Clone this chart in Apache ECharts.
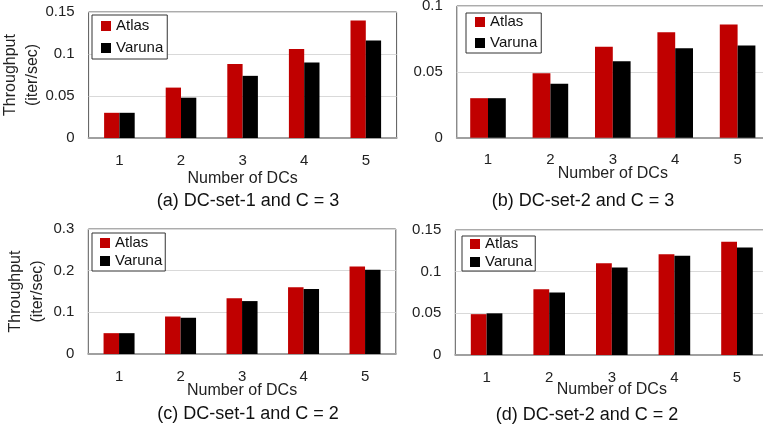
<!DOCTYPE html>
<html>
<head>
<meta charset="utf-8">
<script src="https://cdn.jsdelivr.net/npm/echarts@6/dist/echarts.min.js"></script>
<style>
html,body{margin:0;padding:0;background:#fff;}
#chart{width:763px;height:429px;}
</style>
</head>
<body>
<div id="chart"></div>
<script>
// ---- data ----
const categories = ['1', '2', '3', '4', '5'];
const seriesNames = ['Atlas', 'Varuna'];
const atlasA  = [0.030, 0.060, 0.088, 0.106, 0.140];
const varunaA = [0.030, 0.048, 0.074, 0.090, 0.116];
const atlasB  = [0.030, 0.049, 0.069, 0.080, 0.086];
const varunaB = [0.030, 0.041, 0.058, 0.068, 0.070];
const atlasC  = [0.050, 0.090, 0.134, 0.160, 0.210];
const varunaC = [0.050, 0.087, 0.127, 0.156, 0.202];
const atlasD  = [0.049, 0.079, 0.110, 0.121, 0.136];
const varunaD = [0.050, 0.075, 0.105, 0.119, 0.129];
const captions = ['(a) DC-set-1 and C = 3', '(b) DC-set-2 and C = 3', '(c) DC-set-1 and C = 2', '(d) DC-set-2 and C = 2'];
const xAxisName = 'Number of DCs';
const yAxisName = 'Throughput\n(iter/sec)';
const yMax = [0.15, 0.1, 0.3, 0.15];
const yInterval = [0.05, 0.05, 0.1, 0.05];

// ---- layout ----
const FONT = '"Liberation Sans", Arial, sans-serif';
const grids = [
  {left: 88.6, top: 12, width: 308, height: 126},
  {left: 456.8, top: 6, width: 312, height: 131.7},
  {left: 88.3, top: 229, width: 307.5, height: 125},
  {left: 455.3, top: 230, width: 313, height: 125}
];
const barWidths = [15.3, 17.8, 15.5, 15.8];
const nameGaps = [33, 28, 29, 27];
const yNameGaps = [45, 0, 40, 0];
const legendPos = [
  {left: 92, top: 15, padding: [3, 4, 3, 9], itemGap: 6},
  {left: 466, top: 13, padding: [1, 4, 2, 9], itemGap: 5},
  {left: 92, top: 233, padding: [2, 3, 2, 8], itemGap: 2},
  {left: 462, top: 236, padding: [0, 3, 1, 8], itemGap: 2}
];
const captionPos = [[248, 201], [583, 201], [248, 414], [587, 415]];
const atlasData = [atlasA, atlasB, atlasC, atlasD];
const varunaData = [varunaA, varunaB, varunaC, varunaD];

const option = {
  animation: false,
  backgroundColor: '#fff',
  textStyle: {fontFamily: FONT},
  grid: grids.map(g => Object.assign({show: true, borderColor: '#595959', borderWidth: 1,
    backgroundColor: 'transparent', containLabel: false, outerBoundsMode: 'none'}, g)),
  legend: legendPos.map(l => ({
    data: seriesNames,
    orient: 'vertical',
    left: l.left, top: l.top,
    padding: l.padding,
    itemGap: l.itemGap,
    itemWidth: 10, itemHeight: 10,
    itemTextGap: 4,
    icon: 'rect',
    borderColor: '#333',
    borderWidth: 1,
    backgroundColor: '#fff',
    textStyle: {fontSize: 15, color: '#111', fontFamily: FONT, lineHeight: 16}
  })),
  xAxis: grids.map((g, i) => ({
    type: 'category',
    gridIndex: i,
    data: categories,
    name: xAxisName,
    nameLocation: 'middle',
    nameGap: nameGaps[i],
    nameMoveOverlap: false,
    nameTextStyle: {fontSize: 16, color: '#222', fontFamily: FONT},
    axisLine: {lineStyle: {color: '#a0a0a0', width: 2}},
    axisTick: {show: false},
    axisLabel: {fontSize: 15, color: '#222', margin: 15, fontFamily: FONT}
  })),
  yAxis: grids.map((g, i) => ({
    type: 'value',
    gridIndex: i,
    min: 0,
    max: yMax[i],
    interval: yInterval[i],
    name: yNameGaps[i] ? yAxisName : '',
    nameLocation: 'middle',
    nameRotate: 90,
    nameGap: yNameGaps[i],
    nameMoveOverlap: false,
    nameTextStyle: {fontSize: 16, color: '#222', lineHeight: 22, fontFamily: FONT},
    axisLine: {show: false},
    axisTick: {show: false},
    splitLine: {lineStyle: {color: '#d9d9d9', width: 1}},
    axisLabel: {fontSize: 15, color: '#222', margin: 14, fontFamily: FONT,
      formatter: v => String(+v.toFixed(2))}
  })),
  series: [],
  graphic: captions.map((c, i) => ({
    type: 'text',
    x: captionPos[i][0],
    y: captionPos[i][1],
    style: {text: c, fontSize: 18, fill: '#111', fontFamily: FONT, textAlign: 'center', textVerticalAlign: 'middle'}
  }))
};

for (let i = 0; i < 4; i++) {
  option.series.push({
    name: 'Atlas', type: 'bar', xAxisIndex: i, yAxisIndex: i,
    data: atlasData[i], barWidth: barWidths[i], barGap: '0%',
    itemStyle: {color: '#C00000'}
  });
  option.series.push({
    name: 'Varuna', type: 'bar', xAxisIndex: i, yAxisIndex: i,
    data: varunaData[i], barWidth: barWidths[i], barGap: '0%',
    itemStyle: {color: '#000000'}
  });
}

const chart = echarts.init(document.getElementById('chart'), null, {renderer: 'canvas'});
chart.setOption(option);
</script>
</body>
</html>
